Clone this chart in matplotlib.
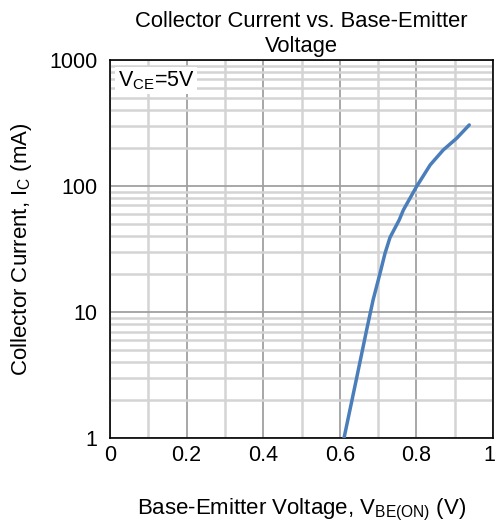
import numpy as np
import matplotlib.pyplot as plt
import matplotlib.transforms as mtransforms
from matplotlib.ticker import FixedLocator, NullFormatter

plt.rcParams['font.family'] = ['Liberation Sans', 'DejaVu Sans']

# curve
vbe = [0.611, 0.644, 0.670, 0.687, 0.705, 0.718, 0.731, 0.755, 0.766,
       0.800, 0.836, 0.870, 0.905, 0.938]
ic = [1, 3, 7.2, 12.5, 20.3, 29.2, 39, 53.7, 64.5, 98.5, 147, 193, 239, 305]

xticks = [0, 0.2, 0.4, 0.6, 0.8, 1]
xlabels = ['0', '0.2', '0.4', '0.6', '0.8', '1']
yticks = [1, 10, 100, 1000]
ylabels = ['1', '10', '100', '1000']

fig = plt.figure(figsize=(4.97, 5.26), dpi=100)
ax = fig.add_axes([0.2213, 0.1673, 0.7707, 0.7187])

ax.plot(vbe, ic, color='#4a7ebb', lw=2.5, solid_capstyle='round',
        solid_joinstyle='round', zorder=3)

ax.set_yscale('log')
ax.set_xlim(0, 1)
ax.set_ylim(1, 1000)

ax.set_xticks(xticks)
ax.set_xticklabels(xlabels)
ax.set_yticks(yticks)
ax.set_yticklabels(ylabels)
ax.xaxis.set_minor_locator(FixedLocator([0.1, 0.3, 0.5, 0.7, 0.9]))
minor_y = [m * 10 ** d for d in range(3) for m in range(2, 10)]
ax.yaxis.set_minor_locator(FixedLocator(minor_y))
ax.yaxis.set_minor_formatter(NullFormatter())

ax.grid(which='major', color='#a0a0a0', lw=1.3)
ax.grid(which='minor', color='#d4d4d4', lw=1.8)
ax.tick_params(which='both', length=0, labelsize=15.5)
ax.tick_params(axis='x', pad=5)
ax.tick_params(axis='y', pad=9)

# keep the last x label ("1") inside the figure
last = ax.get_xticklabels()[-1]
last.set_transform(last.get_transform() +
                   mtransforms.ScaledTranslation(-4 / 100, 0, fig.dpi_scale_trans))

for s in ax.spines.values():
    s.set_color('black')
    s.set_linewidth(1.2)

ax.set_title('Collector Current vs. Base-Emitter\nVoltage', fontsize=15.8, pad=6)
ax.set_xlabel('Base-Emitter Voltage, V$_{\\mathregular{BE(ON)}}$ (V)', fontsize=16,
              labelpad=22)
ax.set_ylabel('Collector Current, I$_{\\mathregular{C}}$ (mA)', fontsize=16, labelpad=11)

ax.text(0.02, 0.975, 'V$_{\\mathregular{CE}}$=5V', transform=ax.transAxes,
        fontsize=15.5, va='top', ha='left',
        bbox=dict(facecolor='white', edgecolor='none', pad=1.5), zorder=4)

fig.savefig('out.png', dpi=100)
